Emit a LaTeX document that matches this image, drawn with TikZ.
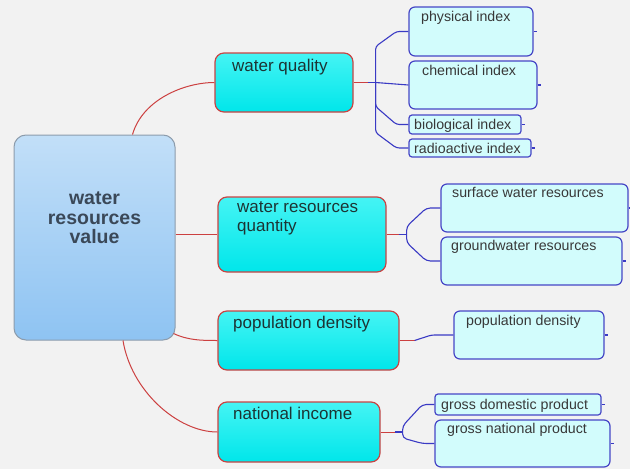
\documentclass[tikz,border=0pt]{standalone}
\usepackage{fontspec}
\setmainfont{Liberation Sans}
\usetikzlibrary{calc}
\definecolor{bg}{HTML}{F2F2F2}
\definecolor{ctop}{HTML}{C2DFF8}
\definecolor{cbot}{HTML}{8EC3F2}
\definecolor{cborder}{HTML}{8C9CAC}
\definecolor{ctxt}{HTML}{3A4858}
\definecolor{lonetop}{HTML}{45F4F4}
\definecolor{lonebot}{HTML}{00E6EA}
\definecolor{loneborder}{HTML}{C84444}
\definecolor{lonetxt}{HTML}{1C3434}
\definecolor{ltwofill}{HTML}{D2FCFC}
\definecolor{ltwoborder}{HTML}{4646C6}
\definecolor{ltwotxt}{HTML}{383838}
\definecolor{redline}{HTML}{CC4040}
\definecolor{blueline}{HTML}{3A3AC4}
\tikzset{
  cbox/.style={draw=cborder, line width=1pt, rounded corners=12pt, top color=ctop, bottom color=cbot, inner sep=0pt},
  lonebox/.style={draw=loneborder, line width=1.2pt, rounded corners=9pt, top color=lonetop, bottom color=lonebot, inner sep=0pt},
  ltwobox/.style={draw=ltwoborder, line width=1.2pt, rounded corners=6pt, fill=ltwofill, inner sep=0pt},
  ctext/.style={font=\fontsize{19.5}{19.5}\selectfont\bfseries, text=ctxt, align=center, inner sep=0pt},
  lonetext/.style={font=\fontsize{17}{19}\selectfont, text=lonetxt, anchor=base west, inner sep=0pt},
  ltwotext/.style={font=\fontsize{14.2}{16}\selectfont, text=ltwotxt, anchor=base west, inner sep=0pt},
  rl/.style={draw=redline, line width=1pt},
  bl/.style={draw=blueline, line width=1.1pt, rounded corners=3pt},
}
\begin{document}
\begin{tikzpicture}[x=1pt,y=-1pt]
\fill[bg] (0,0) rectangle (630,469);
\useasboundingbox (0,0) rectangle (630,469);

% central
\node[cbox, minimum width=161pt, minimum height=205pt] (c) at (94.5,237.5) {};
\node[ctext] (ct) at (94.5,218) {water\\resources\\value};

% level 1
\node[lonebox, minimum width=138pt, minimum height=59pt] (wq) at (284,82.5) {};
\node[lonebox, minimum width=168pt, minimum height=75pt] (wrq) at (302,234.5) {};
\node[lonebox, minimum width=181pt, minimum height=59pt] (pd) at (308.5,340.5) {};
\node[lonebox, minimum width=162pt, minimum height=60pt] (ni) at (299,432) {};

% level 2
\node[ltwobox, minimum width=124pt, minimum height=49pt] (pi) at (471,31.5) {};
\node[ltwobox, minimum width=128pt, minimum height=48pt] (ci) at (473,85) {};
\node[ltwobox, minimum width=112pt, minimum height=19pt, rounded corners=3pt] (bi) at (465,124.5) {};
\node[ltwobox, minimum width=122pt, minimum height=18pt, rounded corners=3pt] (ri) at (470,148) {};
\node[ltwobox, minimum width=187pt, minimum height=48pt] (sw) at (534.5,208) {};
\node[ltwobox, minimum width=181pt, minimum height=48pt] (gw) at (531.5,261) {};
\node[ltwobox, minimum width=150pt, minimum height=48pt] (pdb) at (529,335) {};
\node[ltwobox, minimum width=166pt, minimum height=21pt, rounded corners=3pt] (gdp) at (518,404.5) {};
\node[ltwobox, minimum width=175pt, minimum height=47pt] (gnp) at (522.5,443.5) {};

% texts level 1
\node[lonetext] (wqt) at (232,71) {water quality};
\node[lonetext] (wrqta) at (237,212) {water resources};
\node[lonetext] (wrqtb) at (237,231) {quantity};
\node[lonetext] (pdt) at (233,328) {population density};
\node[lonetext] (nit) at (233,419) {national income};

% texts level 2
\node[ltwotext] (pit) at (421,21) {physical index};
\node[ltwotext] (cit) at (422,75) {chemical index};
\node[ltwotext] (bit) at (414,129.5) {biological index};
\node[ltwotext] (rit) at (414,153) {radioactive index};
\node[ltwotext] (swt) at (452,197) {surface water resources};
\node[ltwotext] (gwt) at (451,250) {groundwater resources};
\node[ltwotext] (pdbt) at (466,325) {population density};
\node[ltwotext] (gdpt) at (441,409) {gross domestic product};
\node[ltwotext] (gnpt) at (447,433) {gross national product};

% central connectors
\draw[rl] ($(c.north)+(38,0)$) .. controls +(10,-35) and +(-30,0) .. (wq.west);
\draw[rl] (c.east |- wrq.west) -- (wrq.west);
\draw[rl] ($(c.south east)+(-2,-7)$) .. controls +(15,7) and +(-15,0) .. (pd.west);
\draw[rl] ($(c.south)+(28.5,0)$) .. controls +(8,50) and +(-40,0) .. (ni.west);

% water quality tree
\coordinate (wqr) at ($(wq.east)+(14,0)$);
\coordinate (wqj) at ($(wq.east)+(22,0)$);
\draw[rl] (wq.east) -- (wqr);
\draw[bl] (wqr) -- (wqj);
\draw[bl] (wqj) -- ++(0,-36) -- ([xshift=-12pt]pi.west) -- (pi.west);
\draw[bl] (wqj) -- (ci.west);
\draw[bl] (wqj) -- ++(0,24) -- ([xshift=-12pt]bi.west) -- (bi.west);
\draw[bl] (wqj) -- ++(0,50) -- ([xshift=-12pt]ri.west) -- (ri.west);

% water resources quantity tree
\coordinate (wrqr) at ($(wrq.east)+(12,0)$);
\coordinate (wrqj) at ($(wrq.east)+(20,0)$);
\draw[rl] (wrq.east) -- (wrqr);
\draw[bl] (wrqr) -- (wrqj);
\draw[bl, rounded corners=4pt] (wrqj) -- ++(0,-8) -- ([xshift=-14pt]sw.west) -- (sw.west);
\draw[bl, rounded corners=4pt] (wrqj) -- ++(0,8) -- ([xshift=-14pt]gw.west) -- (gw.west);

% population density
\coordinate (pdr) at ($(pd.east)+(15,0)$);
\draw[rl] (pd.east) -- (pdr);
\draw[bl] (pdr) -- ([xshift=-22pt]pdb.west) -- (pdb.west);

% national income tree
\coordinate (nir) at ($(ni.east)+(14,0)$);
\coordinate (nij) at ($(ni.east)+(22,0)$);
\draw[rl] (ni.east) -- (nir);
\draw[bl] (nir) -- (nij);
\draw[bl, rounded corners=4pt] (nij) -- ++(0,-6) -- ([xshift=-12pt]gdp.west) -- (gdp.west);
\draw[bl, rounded corners=4pt] (nij) -- ++(0,6) -- ([xshift=-12pt]gnp.west) -- (gnp.west);

% small stubs at right of level-2 boxes
\foreach \n in {pi,ci,bi,ri,sw,gw,pdb,gdp,gnp}
  \draw[bl] (\n.east) -- ++(3,0);
\end{tikzpicture}
\end{document}
